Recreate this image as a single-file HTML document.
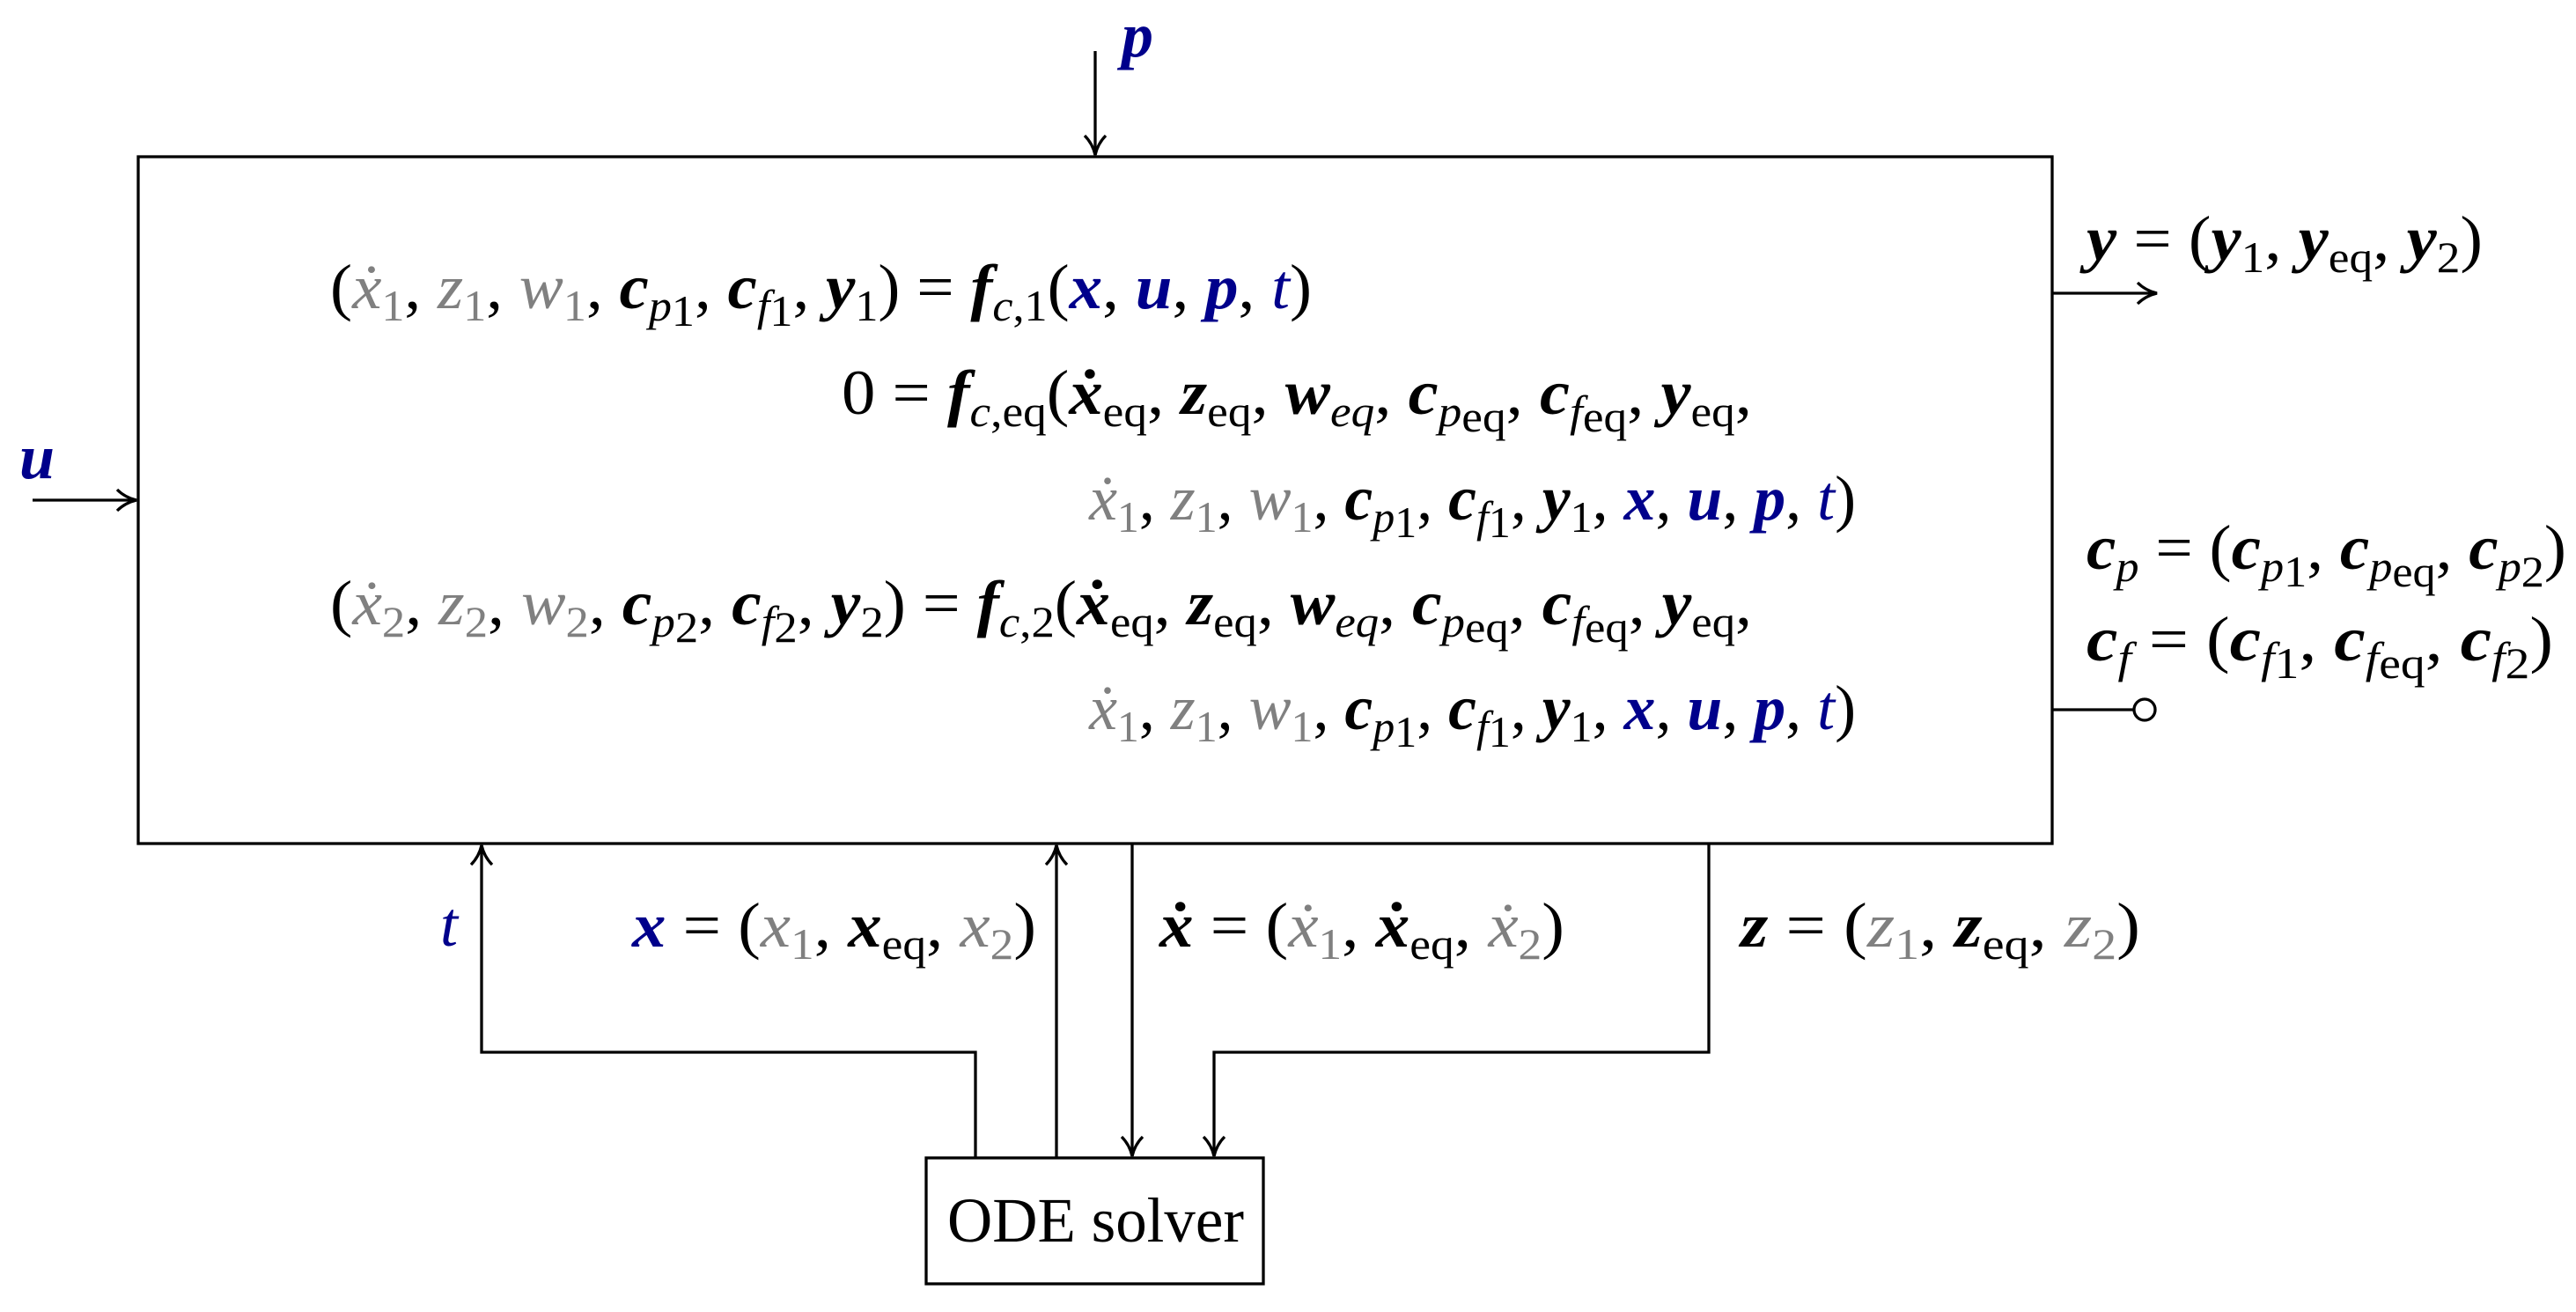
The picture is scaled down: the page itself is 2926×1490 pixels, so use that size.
<!DOCTYPE html>
<html><head><meta charset="utf-8"><style>
html,body{margin:0;padding:0;background:#fff;}
svg{display:block}
text,tspan{font-family:"Liberation Serif","DejaVu Serif",serif;font-size:72px;fill:#000}
.i{font-style:italic}
.b{font-style:italic;font-weight:bold}
.g{fill:#808080}
.bl{fill:#00008b}
.s{font-size:50px}
.si{font-size:50px;font-style:italic}
</style></head><body>
<svg width="2926" height="1490" viewBox="0 0 2926 1490" xmlns="http://www.w3.org/2000/svg" font-family="Liberation Serif, DejaVu Serif, serif">
<g fill="none" stroke="#000" stroke-width="3.3">
<rect x="157" y="178" width="2174" height="780"/>
<rect x="1052" y="1315" width="383" height="143"/>
<line x1="1244" y1="58" x2="1244" y2="176"/>
<path d="M1232 154 Q1241 163 1244 176 Q1247 163 1256 154"/>
<line x1="37" y1="568" x2="155" y2="568"/>
<path d="M133 556 Q142 565 155 568 Q142 571 133 580"/>
<line x1="2331" y1="333" x2="2450" y2="333"/>
<path d="M2428 321 Q2437 330 2450 333 Q2437 336 2428 345"/>
<line x1="2331" y1="806" x2="2424" y2="806"/>
<circle cx="2436" cy="806" r="12"/>
<path d="M1108 1315 V1195 H547 V960"/>
<path d="M535 982 Q544 973 547 960 Q550 973 559 982"/>
<line x1="1200" y1="1315" x2="1200" y2="960"/>
<path d="M1188 982 Q1197 973 1200 960 Q1203 973 1212 982"/>
<line x1="1286" y1="958" x2="1286" y2="1313"/>
<path d="M1274 1291 Q1283 1300 1286 1313 Q1289 1300 1298 1291"/>
<path d="M1941 958 V1195 H1379 V1313"/>
<path d="M1367 1291 Q1376 1300 1379 1313 Q1382 1300 1391 1291"/>
</g>

<text x="1274" y="64" class="b bl">p</text>
<text x="22" y="543" class="b bl">u</text>

<text x="375" y="350" textLength="1115" lengthAdjust="spacingAndGlyphs"><tspan>(</tspan><tspan class="i g">ẋ</tspan><tspan class="s g" dy="14">1</tspan><tspan dy="-14">, </tspan><tspan class="i g">z</tspan><tspan class="s g" dy="14">1</tspan><tspan dy="-14">, </tspan><tspan class="i g">w</tspan><tspan class="s g" dy="14">1</tspan><tspan dy="-14">, </tspan><tspan class="b">c</tspan><tspan class="si" dy="14">p</tspan><tspan class="s" dy="6">1</tspan><tspan dy="-20">, </tspan><tspan class="b">c</tspan><tspan class="si" dy="14">f</tspan><tspan class="s" dy="6">1</tspan><tspan dy="-20">, </tspan><tspan class="b">y</tspan><tspan class="s" dy="14">1</tspan><tspan dy="-14">) = </tspan><tspan class="b">f</tspan><tspan class="si" dy="14">c</tspan><tspan class="s">,1</tspan><tspan dy="-14">(</tspan><tspan class="b bl">x</tspan><tspan>, </tspan><tspan class="b bl">u</tspan><tspan>, </tspan><tspan class="b bl">p</tspan><tspan>, </tspan><tspan class="i bl">t</tspan><tspan>)</tspan></text>

<text x="956" y="470" textLength="1034" lengthAdjust="spacingAndGlyphs"><tspan>0 = </tspan><tspan class="b">f</tspan><tspan class="si" dy="14">c</tspan><tspan class="s">,eq</tspan><tspan dy="-14">(</tspan><tspan class="b">ẋ</tspan><tspan class="s" dy="14">eq</tspan><tspan dy="-14">, </tspan><tspan class="b">z</tspan><tspan class="s" dy="14">eq</tspan><tspan dy="-14">, </tspan><tspan class="b">w</tspan><tspan class="si" dy="14">eq</tspan><tspan dy="-14">, </tspan><tspan class="b">c</tspan><tspan class="si" dy="14">p</tspan><tspan class="s" dy="6">eq</tspan><tspan dy="-20">, </tspan><tspan class="b">c</tspan><tspan class="si" dy="14">f</tspan><tspan class="s" dy="6">eq</tspan><tspan dy="-20">, </tspan><tspan class="b">y</tspan><tspan class="s" dy="14">eq</tspan><tspan dy="-14">,</tspan></text>

<text x="1237" y="590" textLength="871" lengthAdjust="spacingAndGlyphs"><tspan class="i g">ẋ</tspan><tspan class="s g" dy="14">1</tspan><tspan dy="-14">, </tspan><tspan class="i g">z</tspan><tspan class="s g" dy="14">1</tspan><tspan dy="-14">, </tspan><tspan class="i g">w</tspan><tspan class="s g" dy="14">1</tspan><tspan dy="-14">, </tspan><tspan class="b">c</tspan><tspan class="si" dy="14">p</tspan><tspan class="s" dy="6">1</tspan><tspan dy="-20">, </tspan><tspan class="b">c</tspan><tspan class="si" dy="14">f</tspan><tspan class="s" dy="6">1</tspan><tspan dy="-20">, </tspan><tspan class="b">y</tspan><tspan class="s" dy="14">1</tspan><tspan dy="-14">, </tspan><tspan class="b bl">x</tspan><tspan>, </tspan><tspan class="b bl">u</tspan><tspan>, </tspan><tspan class="b bl">p</tspan><tspan>, </tspan><tspan class="i bl">t</tspan><tspan>)</tspan></text>

<text x="375" y="709" textLength="1615" lengthAdjust="spacingAndGlyphs"><tspan>(</tspan><tspan class="i g">ẋ</tspan><tspan class="s g" dy="14">2</tspan><tspan dy="-14">, </tspan><tspan class="i g">z</tspan><tspan class="s g" dy="14">2</tspan><tspan dy="-14">, </tspan><tspan class="i g">w</tspan><tspan class="s g" dy="14">2</tspan><tspan dy="-14">, </tspan><tspan class="b">c</tspan><tspan class="si" dy="14">p</tspan><tspan class="s" dy="6">2</tspan><tspan dy="-20">, </tspan><tspan class="b">c</tspan><tspan class="si" dy="14">f</tspan><tspan class="s" dy="6">2</tspan><tspan dy="-20">, </tspan><tspan class="b">y</tspan><tspan class="s" dy="14">2</tspan><tspan dy="-14">) = </tspan><tspan class="b">f</tspan><tspan class="si" dy="14">c</tspan><tspan class="s">,2</tspan><tspan dy="-14">(</tspan><tspan class="b">ẋ</tspan><tspan class="s" dy="14">eq</tspan><tspan dy="-14">, </tspan><tspan class="b">z</tspan><tspan class="s" dy="14">eq</tspan><tspan dy="-14">, </tspan><tspan class="b">w</tspan><tspan class="si" dy="14">eq</tspan><tspan dy="-14">, </tspan><tspan class="b">c</tspan><tspan class="si" dy="14">p</tspan><tspan class="s" dy="6">eq</tspan><tspan dy="-20">, </tspan><tspan class="b">c</tspan><tspan class="si" dy="14">f</tspan><tspan class="s" dy="6">eq</tspan><tspan dy="-20">, </tspan><tspan class="b">y</tspan><tspan class="s" dy="14">eq</tspan><tspan dy="-14">,</tspan></text>

<text x="1237" y="828" textLength="871" lengthAdjust="spacingAndGlyphs"><tspan class="i g">ẋ</tspan><tspan class="s g" dy="14">1</tspan><tspan dy="-14">, </tspan><tspan class="i g">z</tspan><tspan class="s g" dy="14">1</tspan><tspan dy="-14">, </tspan><tspan class="i g">w</tspan><tspan class="s g" dy="14">1</tspan><tspan dy="-14">, </tspan><tspan class="b">c</tspan><tspan class="si" dy="14">p</tspan><tspan class="s" dy="6">1</tspan><tspan dy="-20">, </tspan><tspan class="b">c</tspan><tspan class="si" dy="14">f</tspan><tspan class="s" dy="6">1</tspan><tspan dy="-20">, </tspan><tspan class="b">y</tspan><tspan class="s" dy="14">1</tspan><tspan dy="-14">, </tspan><tspan class="b bl">x</tspan><tspan>, </tspan><tspan class="b bl">u</tspan><tspan>, </tspan><tspan class="b bl">p</tspan><tspan>, </tspan><tspan class="i bl">t</tspan><tspan>)</tspan></text>

<text x="2370" y="295" textLength="450" lengthAdjust="spacingAndGlyphs"><tspan class="b">y</tspan><tspan> = (</tspan><tspan class="b">y</tspan><tspan class="s" dy="14">1</tspan><tspan dy="-14">, </tspan><tspan class="b">y</tspan><tspan class="s" dy="14">eq</tspan><tspan dy="-14">, </tspan><tspan class="b">y</tspan><tspan class="s" dy="14">2</tspan><tspan dy="-14">)</tspan></text>
<text x="2370" y="646" textLength="545" lengthAdjust="spacingAndGlyphs"><tspan class="b">c</tspan><tspan class="si" dy="14">p</tspan><tspan dy="-14"> = (</tspan><tspan class="b">c</tspan><tspan class="si" dy="14">p</tspan><tspan class="s" dy="6">1</tspan><tspan dy="-20">, </tspan><tspan class="b">c</tspan><tspan class="si" dy="14">p</tspan><tspan class="s" dy="6">eq</tspan><tspan dy="-20">, </tspan><tspan class="b">c</tspan><tspan class="si" dy="14">p</tspan><tspan class="s" dy="6">2</tspan><tspan dy="-20">)</tspan></text>
<text x="2370" y="750" textLength="530" lengthAdjust="spacingAndGlyphs"><tspan class="b">c</tspan><tspan class="si" dy="14">f</tspan><tspan dy="-14"> = (</tspan><tspan class="b">c</tspan><tspan class="si" dy="14">f</tspan><tspan class="s" dy="6">1</tspan><tspan dy="-20">, </tspan><tspan class="b">c</tspan><tspan class="si" dy="14">f</tspan><tspan class="s" dy="6">eq</tspan><tspan dy="-20">, </tspan><tspan class="b">c</tspan><tspan class="si" dy="14">f</tspan><tspan class="s" dy="6">2</tspan><tspan dy="-20">)</tspan></text>

<text x="500" y="1074" class="i bl">t</text>
<text x="718" y="1075" textLength="459" lengthAdjust="spacingAndGlyphs"><tspan class="b bl">x</tspan><tspan> = (</tspan><tspan class="i g">x</tspan><tspan class="s g" dy="14">1</tspan><tspan dy="-14">, </tspan><tspan class="b">x</tspan><tspan class="s" dy="14">eq</tspan><tspan dy="-14">, </tspan><tspan class="i g">x</tspan><tspan class="s g" dy="14">2</tspan><tspan dy="-14">)</tspan></text>
<text x="1317" y="1075" textLength="460" lengthAdjust="spacingAndGlyphs"><tspan class="b">ẋ</tspan><tspan> = (</tspan><tspan class="i g">ẋ</tspan><tspan class="s g" dy="14">1</tspan><tspan dy="-14">, </tspan><tspan class="b">ẋ</tspan><tspan class="s" dy="14">eq</tspan><tspan dy="-14">, </tspan><tspan class="i g">ẋ</tspan><tspan class="s g" dy="14">2</tspan><tspan dy="-14">)</tspan></text>
<text x="1977" y="1075" textLength="454" lengthAdjust="spacingAndGlyphs"><tspan class="b">z</tspan><tspan> = (</tspan><tspan class="i g">z</tspan><tspan class="s g" dy="14">1</tspan><tspan dy="-14">, </tspan><tspan class="b">z</tspan><tspan class="s" dy="14">eq</tspan><tspan dy="-14">, </tspan><tspan class="i g">z</tspan><tspan class="s g" dy="14">2</tspan><tspan dy="-14">)</tspan></text>

<text x="1076" y="1410" textLength="337" lengthAdjust="spacingAndGlyphs">ODE solver</text>
</svg>
</body></html>
